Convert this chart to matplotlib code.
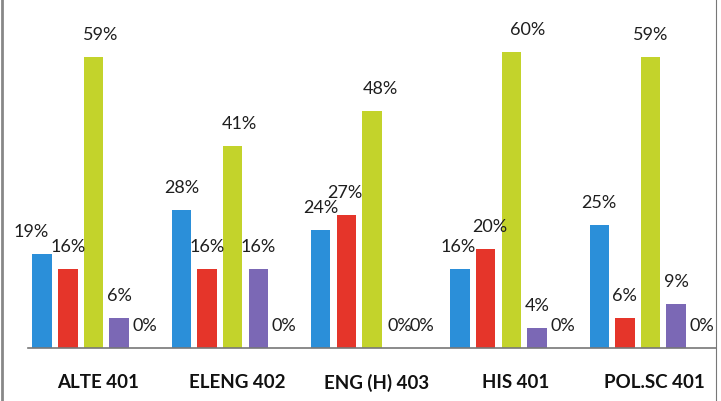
import numpy as np
import matplotlib
matplotlib.use('Agg')
import matplotlib.pyplot as plt
from matplotlib.lines import Line2D

courses = ['ALTE 401', 'ELENG 402', 'ENG (H) 403', 'HIS 401', 'POL.SC 401']

# five series per course (last one is zero everywhere)
s1 = [19, 28, 24, 16, 25]
s2 = [16, 16, 27, 20, 6]
s3 = [59, 41, 48, 60, 59]
s4 = [6, 16, 0, 4, 9]
s5 = [0, 0, 0, 0, 0]

series = [s1, s2, s3, s4, s5]
colors = ['#2b8fd9', '#e5352a', '#c3d32b', '#7b68b5', '#ffffff']

# small sideways nudges (pixels) for a few labels, as in the original
nudge = {(0, 0): -11, (2, 0): 7, (2, 1): 7, (1, 2): -2, (2, 2): 8,
         (3, 2): 2, (4, 2): -1, (0, 3): -2, (1, 3): 4, (2, 3): 16}

plt.rcParams['font.family'] = ['Lato', 'DejaVu Sans']

fig = plt.figure(figsize=(7.21, 4.01), dpi=100)
ax = fig.add_axes([28 / 721, 53 / 401, (716 - 28) / 721, 348 / 401])

x = np.arange(len(courses))
slot = 0.184
w = 0.14

for i, vals in enumerate(series):
    pos = x + (i - 2) * slot
    ax.bar(pos, vals, width=w, color=colors[i], zorder=2)
    for j, v in enumerate(vals):
        dx = nudge.get((i, j), 0)
        ax.annotate(f'{v}%', (pos[j], v), xytext=(dx, 22),
                    textcoords='offset pixels', ha='center', va='center',
                    fontsize=13, color='#1e1e1e')

ax.set_xlim(-0.47, 4.47)
ax.set_ylim(0, 70.6)
ax.set_yticks([])
ax.set_xticks(x + 0.03)
ax.set_xticklabels(courses, fontsize=13.5, fontweight='bold', color='#111111')
ax.tick_params(axis='x', length=0, pad=19)
for sp in ['top', 'right', 'left']:
    ax.spines[sp].set_visible(False)
ax.spines['bottom'].set_color('#777777')
ax.spines['bottom'].set_linewidth(1.2)

# scanned frame edges
fig.add_artist(Line2D([2 / 721, 2 / 721], [0, 1], color='#888888', lw=2))
fig.add_artist(Line2D([716 / 721, 716 / 721], [0, 1], color='#777777', lw=0.8))

fig.savefig('out.png', dpi=100)
